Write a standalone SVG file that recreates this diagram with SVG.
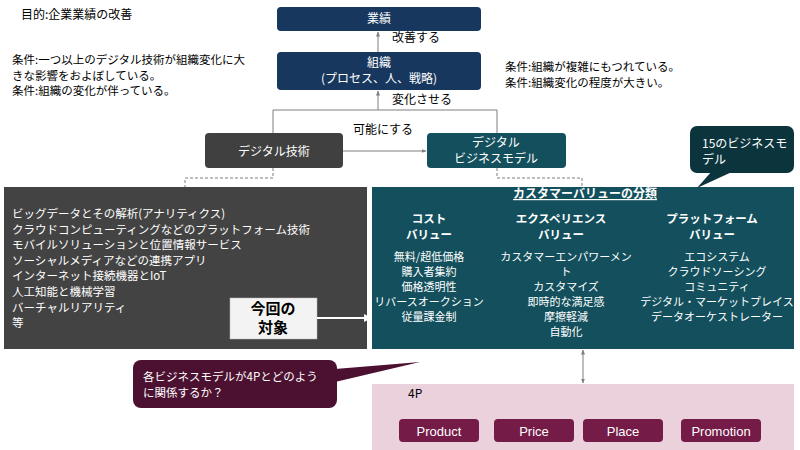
<svg xmlns="http://www.w3.org/2000/svg" width="800" height="450" viewBox="0 0 800 450">
<defs>
<style>
text{font-family:"Noto Sans CJK JP","Liberation Sans",sans-serif;}
.t{font-size:12px;fill:#000;}
.s{font-size:11.5px;}
.w{fill:#fff;}
.c{text-anchor:middle;}
.b{font-weight:bold;}
.navy{fill:#17375e;}
.conn{stroke:#7f7f7f;stroke-width:1;fill:none;}
.dash{stroke:#7f7f7f;stroke-width:1;fill:none;stroke-dasharray:3,2;}
.btn{fill:#741b47;}
.btxt{font-family:"Liberation Sans",Arial,sans-serif;font-size:13px;fill:#fff;text-anchor:middle;}
</style>
<marker id="ah" viewBox="0 0 10 10" refX="9" refY="5" markerWidth="5" markerHeight="5" orient="auto-start-reverse">
<path d="M0,1 L10,5 L0,9 z" fill="#7f7f7f"/>
</marker>
<marker id="ahw" viewBox="0 0 10 10" refX="9" refY="5" markerWidth="4" markerHeight="4" orient="auto">
<path d="M0,0 L10,5 L0,10 z" fill="#fff"/>
</marker>
</defs>
<rect width="800" height="450" fill="#fff"/>

<g id="notes">
<text class="t" x="21" y="19">目的:企業業績の改善</text>
<text class="t s" x="12" y="64">条件:一つ以上のデジタル技術が組織変化に大</text>
<text class="t s" x="12" y="79.5">きな影響をおよぼしている。</text>
<text class="t s" x="12" y="95">条件:組織の変化が伴っている。</text>
<text class="t s" x="505" y="71">条件:組織が複雑にもつれている。</text>
<text class="t s" x="505" y="86.5">条件:組織変化の程度が大きい。</text>
</g>

<g id="gyoseki">
<rect class="navy" x="277" y="7" width="204" height="24" rx="4"/>
<text class="t w c" x="379" y="23">業績</text>
</g>

<g id="soshiki">
<rect class="navy" x="277" y="52" width="204" height="38" rx="4"/>
<text class="t w c" x="379" y="67">組織</text>
<text class="t w c" x="379" y="83">(プロセス、人、戦略)</text>
</g>

<g id="digital-tech">
<rect x="205" y="133" width="138" height="35" rx="4" fill="#404040"/>
<text class="t w c" x="274" y="156" font-size="13">デジタル技術</text>
</g>

<g id="digital-bm">
<rect x="427" y="133" width="139" height="35" rx="4" fill="#134f5c"/>
<text class="t w c" x="496" y="147">デジタル</text>
<text class="t w c" x="496" y="163">ビジネスモデル</text>
</g>

<g id="tech-list">
<rect x="4" y="187" width="363" height="162" fill="#434343"/>
<g font-size="11.5">
<text class="w" x="12" y="218">ビッグデータとその解析(アナリティクス)</text>
<text class="w" x="12" y="233.6">クラウドコンピューティングなどのプラットフォーム技術</text>
<text class="w" x="12" y="249.2">モバイルソリューションと位置情報サービス</text>
<text class="w" x="12" y="264.8">ソーシャルメディアなどの連携アプリ</text>
<text class="w" x="12" y="280.4">インターネット接続機器とIoT</text>
<text class="w" x="12" y="296">人工知能と機械学習</text>
<text class="w" x="12" y="311.6">バーチャルリアリティ</text>
<text class="w" x="12" y="327.2">等</text>
</g>
</g>

<g id="konkai">
<rect x="230" y="298" width="87" height="41" fill="#f3f3f3" stroke="#bbb" stroke-width="0.5"/>
<text class="c b" x="273" y="314" font-size="15" fill="#000">今回の</text>
<text class="c b" x="273" y="333" font-size="15" fill="#000">対象</text>
</g>

<g id="customer-value">
<rect x="372" y="187" width="422" height="162" fill="#134f5c"/>
<text class="w c b" x="585" y="198" font-size="12" text-decoration="underline">カスタマーバリューの分類</text>
<g font-size="11.5">
<text class="w c b" x="429" y="223">コスト</text>
<text class="w c b" x="429" y="239">バリュー</text>
<text class="w c b" x="561" y="223">エクスペリエンス</text>
<text class="w c b" x="561" y="239">バリュー</text>
<text class="w c b" x="712" y="223">プラットフォーム</text>
<text class="w c b" x="712" y="239">バリュー</text>
</g>
<g font-size="11">
<text class="w c" x="429" y="261">無料/超低価格</text>
<text class="w c" x="429" y="276">購入者集約</text>
<text class="w c" x="429" y="291">価格透明性</text>
<text class="w c" x="429" y="306">リバースオークション</text>
<text class="w c" x="429" y="321">従量課金制</text>
<text class="w c" x="566" y="261">カスタマーエンパワーメン</text>
<text class="w c" x="566" y="276">ト</text>
<text class="w c" x="566" y="291">カスタマイズ</text>
<text class="w c" x="566" y="306">即時的な満足感</text>
<text class="w c" x="566" y="321">摩擦軽減</text>
<text class="w c" x="566" y="336">自動化</text>
<text class="w c" x="717" y="261">エコシステム</text>
<text class="w c" x="717" y="276">クラウドソーシング</text>
<text class="w c" x="717" y="291">コミュニティ</text>
<text class="w c" x="717" y="306">デジタル・マーケットプレイス</text>
<text class="w c" x="717" y="321">データオーケストレーター</text>
</g>
</g>

<g id="callout-15">
<rect x="690" y="126" width="104" height="47" rx="7" fill="#0c343d"/>
<polygon points="712,171 734,171 697,188" fill="#0c343d"/>
<text class="t w" x="702" y="148">15のビジネスモ</text>
<text class="t w" x="702" y="164">デル</text>
</g>

<g id="callout-4p">
<rect x="133" y="360" width="204" height="48" rx="8" fill="#4c1130"/>
<polygon points="335,369 420,362 335,382" fill="#4c1130"/>
<text class="t s w" x="143" y="381">各ビジネスモデルが4Pとどのよう</text>
<text class="t s w" x="143" y="396.5">に関係するか？</text>
</g>

<g id="four-p">
<rect x="372" y="384" width="422" height="66" fill="#ead1dc"/>
<text x="408" y="398" font-family="Liberation Sans,Arial,sans-serif" font-size="12" fill="#000">4P</text>
</g>
<g id="product"><rect class="btn" x="399" y="419" width="80" height="23" rx="4"/><text class="btxt" x="439" y="435.5">Product</text></g>
<g id="price"><rect class="btn" x="494" y="419" width="80" height="23" rx="4"/><text class="btxt" x="534" y="435.5">Price</text></g>
<g id="place"><rect class="btn" x="583" y="419" width="80" height="23" rx="4"/><text class="btxt" x="623" y="435.5">Place</text></g>
<g id="promotion"><rect class="btn" x="681" y="419" width="80" height="23" rx="4"/><text class="btxt" x="721" y="435.5">Promotion</text></g>

<g id="connectors">
<line class="conn" x1="378" y1="52" x2="378" y2="32" marker-end="url(#ah)"/>
<text class="t" x="392" y="42">改善する</text>
<line class="conn" x1="378" y1="110" x2="378" y2="91" marker-end="url(#ah)"/>
<text class="t" x="392" y="104">変化させる</text>
<polyline class="conn" points="273,133 273,110 497,110 497,133"/>
<line class="conn" x1="343" y1="151" x2="426" y2="151" marker-end="url(#ah)"/>
<text class="t c" x="383" y="134">可能にする</text>
<polyline class="dash" points="273,168 273,178 185,178 185,187"/>
<polyline class="dash" points="497,168 497,178 582,178 582,187"/>
<line class="conn" x1="583" y1="350" x2="583" y2="383" marker-start="url(#ah)" marker-end="url(#ah)"/>
<line x1="317" y1="318" x2="371" y2="318" stroke="#fff" stroke-width="2" marker-end="url(#ahw)"/>
</g>
</svg>
